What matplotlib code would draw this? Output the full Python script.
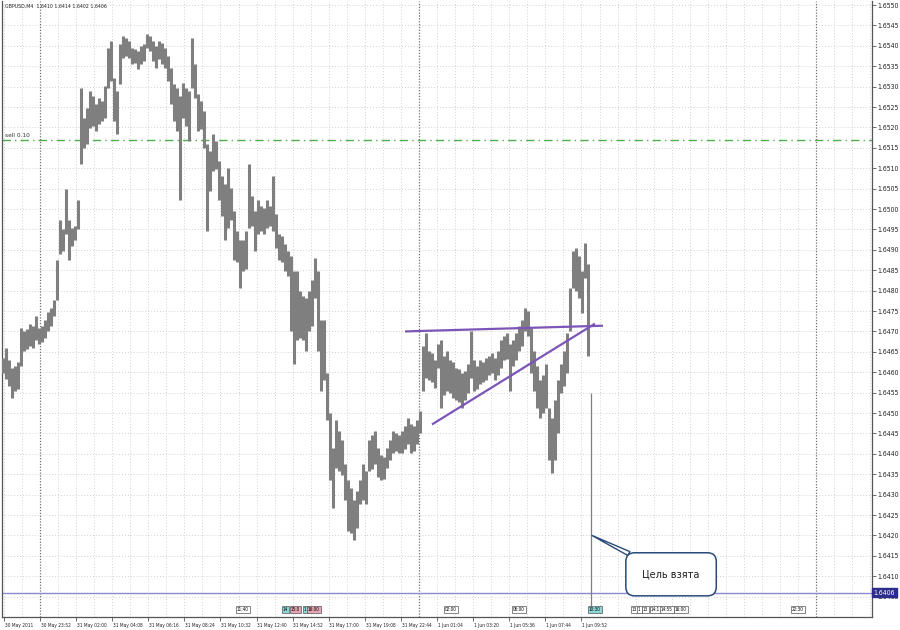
import matplotlib
matplotlib.use('Agg')
import matplotlib.pyplot as plt
import matplotlib.transforms as mtransforms
from matplotlib import font_manager
import numpy as np

# ---------------- data ----------------
symbol_title = "GBPUSD,M4  1.6410 1.6414 1.6402 1.6406"

highs = [1.64636, 1.64660, 1.64629, 1.64611, 1.64616, 1.64624, 1.64709, 1.64702, 1.64707, 1.64719,
         1.64714, 1.64739, 1.64709, 1.64714, 1.64727, 1.64747, 1.64758, 1.64776, 1.64874, 1.64972,
         1.64952, 1.65050, 1.64972, 1.64954, 1.64959, 1.65021, 1.65297, 1.65224, 1.65248, 1.65290,
         1.65278, 1.65258, 1.65273, 1.65266, 1.65302, 1.65395, 1.65413, 1.65322, 1.65290, 1.65405,
         1.65425, 1.65420, 1.65413, 1.65395, 1.65393, 1.65388, 1.65400, 1.65405, 1.65430, 1.65425,
         1.65413, 1.65400, 1.65413, 1.65408, 1.65395, 1.65376, 1.65346, 1.65307, 1.65297, 1.65278,
         1.65310, 1.65297, 1.65290, 1.65420, 1.65356, 1.65283, 1.65266, 1.65241, 1.65160, 1.65143,
         1.65185, 1.65168, 1.65119, 1.65082, 1.65062, 1.65101, 1.65052, 1.64996, 1.64947, 1.64923,
         1.64923, 1.64947, 1.65111, 1.65033, 1.64996, 1.65021, 1.65008, 1.65003, 1.65021, 1.65008,
         1.65082, 1.64989, 1.64940, 1.64935, 1.64915, 1.64898, 1.64886, 1.64849, 1.64849, 1.64800,
         1.64788, 1.64783, 1.64800, 1.64825, 1.64881, 1.64849, 1.64727, 1.64727, 1.64597, 1.64499,
         1.64415, 1.64482, 1.64457, 1.64433, 1.64376, 1.64335, 1.64317, 1.64286, 1.64310, 1.64335,
         1.64376, 1.64359, 1.64433, 1.64445, 1.64457, 1.64415, 1.64396, 1.64391, 1.64415, 1.64433,
         1.64457, 1.64450, 1.64445, 1.64457, 1.64469, 1.64489, 1.64474, 1.64469, 1.64482, 1.64506,
         1.64665, 1.64697, 1.64653, 1.64648, 1.64629, 1.64670, 1.64678, 1.64641, 1.64653, 1.64629,
         1.64624, 1.64611, 1.64609, 1.64597, 1.64604, 1.64621, 1.64702, 1.64629, 1.64616, 1.64629,
         1.64624, 1.64636, 1.64641, 1.64646, 1.64636, 1.64653, 1.64678, 1.64690, 1.64695, 1.64670,
         1.64678, 1.64695, 1.64714, 1.64727, 1.64758, 1.64751, 1.64709, 1.64653, 1.64616, 1.64580,
         1.64592, 1.64621, 1.64513, 1.64489, 1.64531, 1.64580, 1.64621, 1.64653, 1.64695, 1.64807,
         1.64898, 1.64905, 1.64886, 1.64849, 1.64918, 1.64866, 1.64550]

lows = [1.64597, 1.64584, 1.64567, 1.64538, 1.64555, 1.64560, 1.64616, 1.64653, 1.64658, 1.64665,
        1.64660, 1.64678, 1.64670, 1.64673, 1.64685, 1.64702, 1.64714, 1.64739, 1.64776, 1.64891,
        1.64898, 1.64940, 1.64874, 1.64910, 1.64923, 1.64952, 1.65111, 1.65150, 1.65160, 1.65199,
        1.65204, 1.65192, 1.65209, 1.65217, 1.65224, 1.65297, 1.65315, 1.65217, 1.65185, 1.65307,
        1.65371, 1.65376, 1.65371, 1.65356, 1.65359, 1.65344, 1.65356, 1.65364, 1.65395, 1.65388,
        1.65364, 1.65346, 1.65368, 1.65356, 1.65346, 1.65315, 1.65258, 1.65217, 1.65192, 1.65021,
        1.65224, 1.65204, 1.65168, 1.65297, 1.65273, 1.65192, 1.65197, 1.65150, 1.64947, 1.65045,
        1.65094, 1.65099, 1.65021, 1.64984, 1.64923, 1.64954, 1.64972, 1.64874, 1.64869, 1.64807,
        1.64849, 1.64854, 1.64954, 1.64959, 1.64898, 1.64940, 1.64947, 1.64940, 1.64954, 1.64959,
        1.64947, 1.64905, 1.64874, 1.64869, 1.64849, 1.64837, 1.64702, 1.64621, 1.64678, 1.64685,
        1.64678, 1.64653, 1.64702, 1.64714, 1.64783, 1.64653, 1.64555, 1.64580, 1.64482, 1.64335,
        1.64268, 1.64366, 1.64359, 1.64347, 1.64286, 1.64212, 1.64205, 1.64188, 1.64219, 1.64278,
        1.64286, 1.64278, 1.64359, 1.64364, 1.64376, 1.64342, 1.64335, 1.64339, 1.64366, 1.64384,
        1.64401, 1.64408, 1.64403, 1.64401, 1.64413, 1.64425, 1.64401, 1.64408, 1.64425, 1.64450,
        1.64555, 1.64587, 1.64580, 1.64575, 1.64562, 1.64611, 1.64513, 1.64543, 1.64555, 1.64550,
        1.64538, 1.64531, 1.64526, 1.64513, 1.64531, 1.64548, 1.64587, 1.64555, 1.64560, 1.64572,
        1.64575, 1.64580, 1.64592, 1.64597, 1.64580, 1.64592, 1.64611, 1.64629, 1.64633, 1.64555,
        1.64616, 1.64629, 1.64653, 1.64665, 1.64702, 1.64690, 1.64597, 1.64555, 1.64513, 1.64489,
        1.64501, 1.64513, 1.64384, 1.64352, 1.64384, 1.64450, 1.64548, 1.64567, 1.64597, 1.64702,
        1.64807, 1.64800, 1.64783, 1.64744, 1.64832, 1.64641, 1.64020]

x_labels = ["30 May 2011", "30 May 23:52", "31 May 02:00", "31 May 04:08", "31 May 06:16",
            "31 May 08:24", "31 May 10:32", "31 May 12:40", "31 May 14:52", "31 May 17:00",
            "31 May 19:08", "31 May 22:44", "1 Jun 01:04", "1 Jun 03:20", "1 Jun 05:36",
            "1 Jun 07:44", "1 Jun 09:52"]

y_ticks = [1.6405, 1.6410, 1.6415, 1.6420, 1.6425, 1.6430, 1.6435, 1.6440, 1.6445, 1.6450,
           1.6455, 1.6460, 1.6465, 1.6470, 1.6475, 1.6480, 1.6485, 1.6490, 1.6495, 1.6500,
           1.6505, 1.6510, 1.6515, 1.6520, 1.6525, 1.6530, 1.6535, 1.6540, 1.6545, 1.6550]

sell_level = 1.6517
sell_label = "sell 0.10"
target_level = 1.6406
target_label = "1.6406"

resist_x = [134.0, 200.0]
resist_y = [1.64700, 1.64714]
support_x = [143.0, 197.3]
support_y = [1.64472, 1.64719]

callout_text = "Цель взята"
callout_price = 1.6420

event_labels = ["11:40", "14", "15:0", "1", "16:00", "02:00", "06:00", "10:30",
                "13", "1", "13", "14:1", "14:55", "16:00", "22:30"]
event_bar = [78.0, 93.3, 96.0, 100.3, 101.7, 147.3, 170.0, 195.3,
             209.7, 211.7, 213.3, 216.0, 219.3, 224.0, 263.0]
event_kind = ["plain", "teal", "pink", "teal", "pink", "plain", "plain", "teal",
              "plain", "plain", "plain", "plain", "plain", "plain", "plain"]

# ---------------- fonts ----------------
plt.rcParams['font.family'] = ['DejaVu Sans']
narrow = None
for f in font_manager.fontManager.ttflist:
    if f.name == 'Liberation Sans Narrow' and f.weight in (400, 'normal', 'regular') and f.style == 'normal':
        narrow = f.fname
        break
if narrow is None:
    for f in font_manager.fontManager.ttflist:
        if f.fname.endswith('DejaVuSansCondensed.ttf'):
            narrow = f.fname
            break


def fprop(size):
    if narrow:
        return font_manager.FontProperties(fname=narrow, size=size)
    return font_manager.FontProperties(family='Liberation Sans', size=size)


# ---------------- figure ----------------
W, H = 900, 630
fig = plt.figure(figsize=(W / 100, H / 100), dpi=100)
fig.patch.set_facecolor('white')
renderer = fig.canvas.get_renderer()


def fit_size(sample, target_px):
    t = fig.text(0, 0, sample, fontproperties=fprop(10))
    w = t.get_window_extent(renderer).width
    t.remove()
    return 10.0 * target_px / w


xlab_size = fit_size("31 May 02:00", 30.5)
title_size = fit_size(symbol_title, 102)
ylab_size = fit_size("1.6550", 21.5)
event_size = fit_size("11:40", 12)

ax = fig.add_axes([2 / W, 13 / H, 870 / W, 616 / H])
ax.set_facecolor('white')

n = len(highs)
xs = np.arange(n)
ax.set_xlim(-0.33, 289.67)
ax.set_ylim(1.6400, 1.65510)

# grid
grid_step = 6.0167
grid_x = 0.3 + grid_step * np.arange(49)
for i, gx in enumerate(grid_x):
    if i in (2, 23, 45):
        ax.axvline(gx, color='#707070', lw=0.9, ls=(0, (1, 1.3)), zorder=1)
    else:
        ax.axvline(gx, color='#d2d2d2', lw=0.7, ls=(0, (1, 2)), zorder=0)
for yt in y_ticks:
    ax.axhline(yt, color='#d2d2d2', lw=0.7, ls=(0, (1, 2)), zorder=0)

# bars
ax.vlines(xs[:-1], lows[:-1], highs[:-1], color='#7f7f7f', lw=2.2, zorder=3)
ax.vlines(xs[-1:], lows[-1:], highs[-1:], color='#7f7f7f', lw=0.9, zorder=3)

# levels
ax.axhline(sell_level, color='#4fae4f', lw=1.0, ls=(0, (6, 3, 1, 3)), zorder=2)
ax.text(0.004, sell_level + 0.00004, sell_label, transform=mtransforms.blended_transform_factory(ax.transAxes, ax.transData),
        fontproperties=fprop(ylab_size * 0.95), color='#333333', va='bottom', ha='left', zorder=5)
ax.axhline(target_level, color='#8a8ad0', lw=1.0, zorder=2)

# trend lines
ax.plot(resist_x, resist_y, color='#7d55b8', lw=1.6, zorder=4, solid_capstyle='butt')
ax.plot(support_x, support_y, color='#7d55b8', lw=1.6, zorder=4, solid_capstyle='butt')

# callout
ax.annotate(callout_text, xy=(xs[-1] + 0.3, callout_price), xytext=(57, -28), textcoords='offset points',
            fontsize=7, color='#202020', ha='center', va='center', zorder=6,
            bbox=dict(boxstyle='round,pad=1.7,rounding_size=0.9', fc='white', ec='#2a4a7a', lw=1.1),
            arrowprops=dict(arrowstyle='wedge,tail_width=0.45,shrink_factor=0.5', fc='white', ec='#2a4a7a', lw=1.0,
                            shrinkA=0, shrinkB=0))

# event markers along bottom
bt = mtransforms.blended_transform_factory(ax.transData, ax.transAxes)
colors = {"plain": '#ffffff', "teal": '#8fd6d6', "pink": '#e6a5b5'}
for lab, bx, kind in zip(event_labels, event_bar, event_kind):
    ax.text(bx, 0.012, lab, transform=bt, fontproperties=fprop(event_size), ha='left', va='center', zorder=6,
            bbox=dict(boxstyle='square,pad=0.25', fc=colors[kind], ec='#555555', lw=0.5))

# spines
for s in ['left', 'right', 'bottom']:
    ax.spines[s].set_color('#555555')
    ax.spines[s].set_linewidth(0.9)
ax.spines['top'].set_visible(False)

# y axis on right
ax.yaxis.tick_right()
ax.set_yticks(y_ticks)
ax.set_yticklabels([f"{v:.4f}" for v in y_ticks], color='#222222')
for lbl in ax.get_yticklabels():
    lbl.set_fontproperties(fprop(ylab_size))
ax.tick_params(axis='y', direction='out', length=3, width=0.6, color='#555555', pad=1)

# x axis
tick_x = 0.3 + 2 * grid_step * np.arange(len(x_labels))
ax.set_xticks(tick_x)
ax.set_xticklabels(x_labels, color='#222222', ha='left')
ax.tick_params(axis='x', direction='out', length=3, width=0.6, color='#555555', pad=1)
off = mtransforms.ScaledTranslation(0.5 / 72, 0, fig.dpi_scale_trans)
for lbl in ax.get_xticklabels():
    lbl.set_fontproperties(fprop(xlab_size))
    lbl.set_transform(lbl.get_transform() + off)

# current price box (drawn over the lowest scale label, as in the terminal)
ax.text(1.002, target_level, target_label, transform=mtransforms.blended_transform_factory(ax.transAxes, ax.transData),
        fontproperties=fprop(ylab_size), color='white', ha='left', va='center', zorder=7, clip_on=False,
        bbox=dict(boxstyle='square,pad=0.2', fc='#2c2c8c', ec='#2c2c8c'))

# title
fig.text(5 / W, 1 - 6 / H, symbol_title, fontproperties=fprop(title_size), color='#222222', ha='left', va='center')

fig.savefig('out.png', dpi=100, facecolor='white')
